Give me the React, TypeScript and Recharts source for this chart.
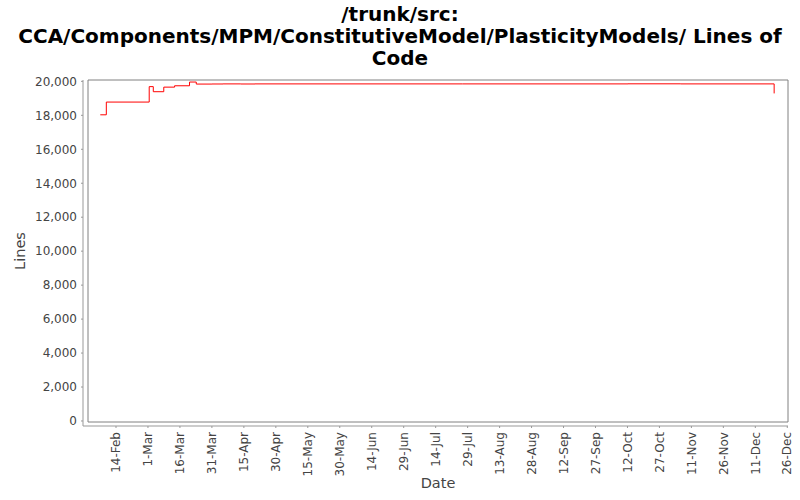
import React from 'react';
import { LineChart, Line, XAxis, YAxis, ReferenceArea } from 'recharts';

// ---- data ----
const commitDates = [
  '2007-02-06T15:00:00Z',
  '2007-02-09T11:00:00Z',
  '2007-03-01T14:00:00Z',
  '2007-03-03T12:00:00Z',
  '2007-03-08T10:00:00Z',
  '2007-03-13T12:00:00Z',
  '2007-03-20T12:00:00Z',
  '2007-03-23T16:00:00Z',
  '2007-03-31T00:00:00Z',
  '2007-04-05T06:00:00Z',
  '2007-04-13T12:00:00Z',
  '2007-04-20T06:00:00Z',
  '2007-07-26T12:00:00Z',
  '2007-10-12T06:00:00Z',
  '2007-11-06T00:00:00Z',
  '2007-12-19T20:00:00Z',
];
const lineCounts = [
  18030, 18780, 19690, 19390, 19660, 19740, 19960, 19840,
  19845, 19850, 19845, 19850, 19850, 19855, 19850, 19290,
];

const xTickDates = [
  '2007-02-14', '2007-03-01', '2007-03-16', '2007-03-31', '2007-04-15',
  '2007-04-30', '2007-05-15', '2007-05-30', '2007-06-14', '2007-06-29',
  '2007-07-14', '2007-07-29', '2007-08-13', '2007-08-28', '2007-09-12',
  '2007-09-27', '2007-10-12', '2007-10-27', '2007-11-11', '2007-11-26',
  '2007-12-11', '2007-12-26',
];
const yTicks = [0, 2000, 4000, 6000, 8000, 10000, 12000, 14000, 16000, 18000, 20000];
const xDomainDates = ['2007-01-31T20:40:00Z', '2007-12-26T08:00:00Z'];
const yDomain: [number, number] = [-60, 20080];

const monthNames = ['Jan', 'Feb', 'Mar', 'Apr', 'May', 'Jun', 'Jul', 'Aug', 'Sep', 'Oct', 'Nov', 'Dec'];
const titleLines = [
  '/trunk/src:',
  'CCA/Components/MPM/ConstitutiveModel/PlasticityModels/ Lines of',
  'Code',
];

const FONT = '"DejaVu Sans", sans-serif';

const data = commitDates.map((d, i) => ({ t: Date.parse(d), lines: lineCounts[i] }));
const xTicks = xTickDates.map((d) => Date.parse(d + 'T00:00:00Z'));
const xDomain: [number, number] = [Date.parse(xDomainDates[0]), Date.parse(xDomainDates[1])];

const fmtDate = (v: number) => {
  const d = new Date(v);
  return `${d.getUTCDate()}-${monthNames[d.getUTCMonth()]}`;
};
const fmtNum = (v: number) => v.toLocaleString('en-US');

const XTick = (props: any) => {
  const { x, y, payload } = props;
  return (
    <text
      x={x}
      y={y}
      transform={`rotate(-90, ${x}, ${y})`}
      textAnchor="end"
      dy="0.35em"
      fill="#444"
      fontSize={12}
      fontFamily={FONT}
    >
      {fmtDate(payload.value)}
    </text>
  );
};

const XLabel = (props: any) => {
  const { viewBox } = props;
  const cx = viewBox.x + 5 + (viewBox.width - 5) / 2;
  return (
    <text x={cx} y={viewBox.y + viewBox.height - 12} textAnchor="middle" fill="#444" fontSize={14.5} fontFamily={FONT}>
      Date
    </text>
  );
};

const YLabel = (props: any) => {
  const { viewBox } = props;
  const cx = viewBox.x + 20;
  const cy = viewBox.y + (viewBox.height - 4) / 2;
  return (
    <text
      x={cx}
      y={cy}
      transform={`rotate(-90, ${cx}, ${cy})`}
      textAnchor="middle"
      dy="0.35em"
      fill="#444"
      fontSize={14.5}
      fontFamily={FONT}
    >
      Lines
    </text>
  );
};

export default function App() {
  return (
    <div style={{ position: 'absolute', left: 0, top: 0, width: 800, height: 500, background: '#fff' }}>
      <div
        style={{
          position: 'absolute',
          left: 0,
          top: 3,
          width: 800,
          textAlign: 'center',
          fontFamily: FONT,
          fontWeight: 'bold',
          fontSize: 20,
          lineHeight: '22px',
          color: '#000',
        }}
      >
        {titleLines.map((l, i) => (
          <div key={i}>{l}</div>
        ))}
      </div>
      <LineChart width={800} height={500} data={data} margin={{ top: 80, right: 12, bottom: 0, left: 0 }}>
        <ReferenceArea
          x1={xDomain[0]}
          x2={xDomain[1]}
          y1={yDomain[0]}
          y2={yDomain[1]}
          fill="none"
          stroke="#808080"
          strokeWidth={1}
          ifOverflow="visible"
        />
        <XAxis
          dataKey="t"
          type="number"
          domain={xDomain}
          allowDataOverflow
          ticks={xTicks}
          interval={0}
          height={74}
          padding={{ left: 5, right: 0 }}
          tickSize={2}
          tickMargin={4}
          stroke="#999"
          tick={<XTick />}
          label={<XLabel />}
        />
        <YAxis
          type="number"
          domain={yDomain}
          allowDataOverflow
          ticks={yTicks}
          interval={0}
          width={83}
          padding={{ top: 0, bottom: 4 }}
          tickSize={2}
          tickMargin={4}
          stroke="#999"
          tickFormatter={fmtNum}
          tick={{ fill: '#444', fontSize: 12, fontFamily: FONT }}
          label={<YLabel />}
        />
        <Line
          type="stepAfter"
          dataKey="lines"
          stroke="#ff0000"
          strokeWidth={1}
          dot={false}
          isAnimationActive={false}
        />
      </LineChart>
    </div>
  );
}
